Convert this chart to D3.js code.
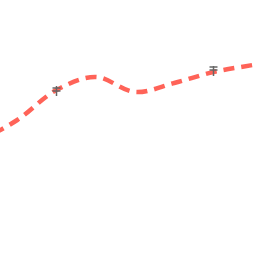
<!DOCTYPE html>
<html><head><meta charset="utf-8">
<script src="https://cdn.jsdelivr.net/npm/d3@7"></script>
<style>html,body{margin:0;padding:0;background:#fff;}svg{display:block;}</style>
</head><body>
<svg id="c" width="256" height="256"></svg>
<script>
const xs = [0,1,2,3,4,5,6,7,8];
const values = [114,136,166,179,164,173,184,191,198];
const errIdx = [2,6];
const errHigh = [170,190];
const errLow = [160,180];
const capHigh = [168,189];
const capLow = [165,186];

const svg = d3.select("#c");
const x = d3.scaleLinear().domain([0,1]).range([-22,17.25]);
const y = d3.scaleLinear().domain([0,256]).range([256,0]);

svg.append("path")
  .datum(values)
  .attr("d", d3.line().x((d,i)=>x(xs[i])).y(d=>y(d)).curve(d3.curveCatmullRom))
  .attr("fill","none").attr("stroke","#ff6358").attr("stroke-width",4.5)
  .attr("stroke-dasharray","11,7");

const g = svg.append("g").attr("stroke","#666").attr("stroke-width",1.5);
errIdx.forEach((k,j)=>{
  const cx = x(xs[k]);
  g.append("line").attr("x1",cx).attr("x2",cx).attr("y1",y(errHigh[j])).attr("y2",y(errLow[j]));
  g.append("line").attr("x1",cx-4).attr("x2",cx+4).attr("y1",y(capHigh[j])).attr("y2",y(capHigh[j]));
  g.append("line").attr("x1",cx-4).attr("x2",cx+4).attr("y1",y(capLow[j])).attr("y2",y(capLow[j]));
});
</script>
</body></html>
